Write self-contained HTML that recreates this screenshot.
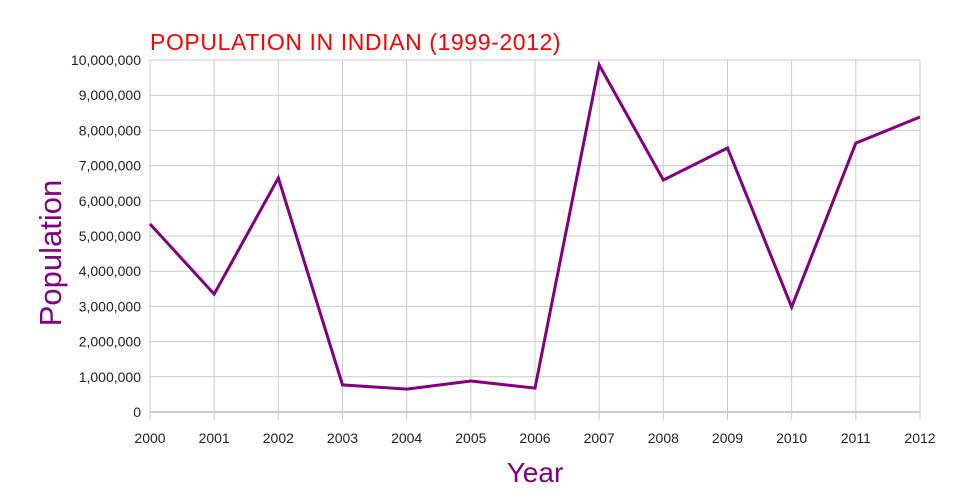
<!DOCTYPE html>
<html><head><meta charset="utf-8">
<style>
html,body{margin:0;padding:0;background:#fff;}
svg{display:block;font-family:"Liberation Sans",sans-serif;}
</style></head>
<body>
<svg id="chart" width="960" height="500">
<text x="150" y="50" font-size="23" letter-spacing="0.6" fill="#ff0000">POPULATION IN INDIAN (1999-2012)</text>
<g id="grid"></g>
<g id="xt"></g>
<g id="yt"></g>
<text x="535" y="482" font-size="28" fill="#800080" text-anchor="middle">Year</text>
<text transform="translate(61,253) rotate(-90)" font-size="31" fill="#800080" text-anchor="middle">Population</text>
</svg>
<script>
const years = [2000,2001,2002,2003,2004,2005,2006,2007,2008,2009,2010,2011,2012];
const population = [5340000,3350000,6650000,770000,650000,880000,680000,9860000,6590000,7500000,2980000,7640000,8380000];
const yTicks = [0,1000000,2000000,3000000,4000000,5000000,6000000,7000000,8000000,9000000,10000000];

const NS="http://www.w3.org/2000/svg";
const x0=150,x1=920,y0=412,y1=60;
const xs=i=>x0+(x1-x0)*i/(years.length-1);
const ys=v=>y0-(y0-y1)*v/10000000;
function mk(tag,attrs,parent){const e=document.createElementNS(NS,tag);for(const k in attrs)e.setAttribute(k,attrs[k]);parent.appendChild(e);return e;}
const svg=document.getElementById('chart');
const grid=document.getElementById('grid');
const xt=document.getElementById('xt');
const yt=document.getElementById('yt');

yTicks.forEach(v=>{
  const l=mk('line',{x1:x0,x2:x1,y1:ys(v),y2:ys(v),stroke:v===0?'#999':'#ccc','stroke-width':1},grid);
  
  
  const t=mk('text',{x:141,y:ys(v)+5,'font-size':14,'text-anchor':'end',fill:'#222'},yt);
  t.textContent=v.toLocaleString('en-US');
  
  
});
years.forEach((y,i)=>{
  const l=mk('line',{x1:xs(i),x2:xs(i),y1:y1,y2:y0+8,stroke:'#ccc','stroke-width':1},grid);
  
  
  const t=mk('text',{x:xs(i),y:443,'font-size':14,'text-anchor':'middle',fill:'#222'},xt);
  t.textContent=y;
  
  
});
const pts=population.map((v,i)=>xs(i)+','+ys(v)).join(' ');
const line=mk('polyline',{points:pts,fill:'none',stroke:'#800080','stroke-width':3,'stroke-linejoin':'miter'},svg);


</script>
</body></html>
